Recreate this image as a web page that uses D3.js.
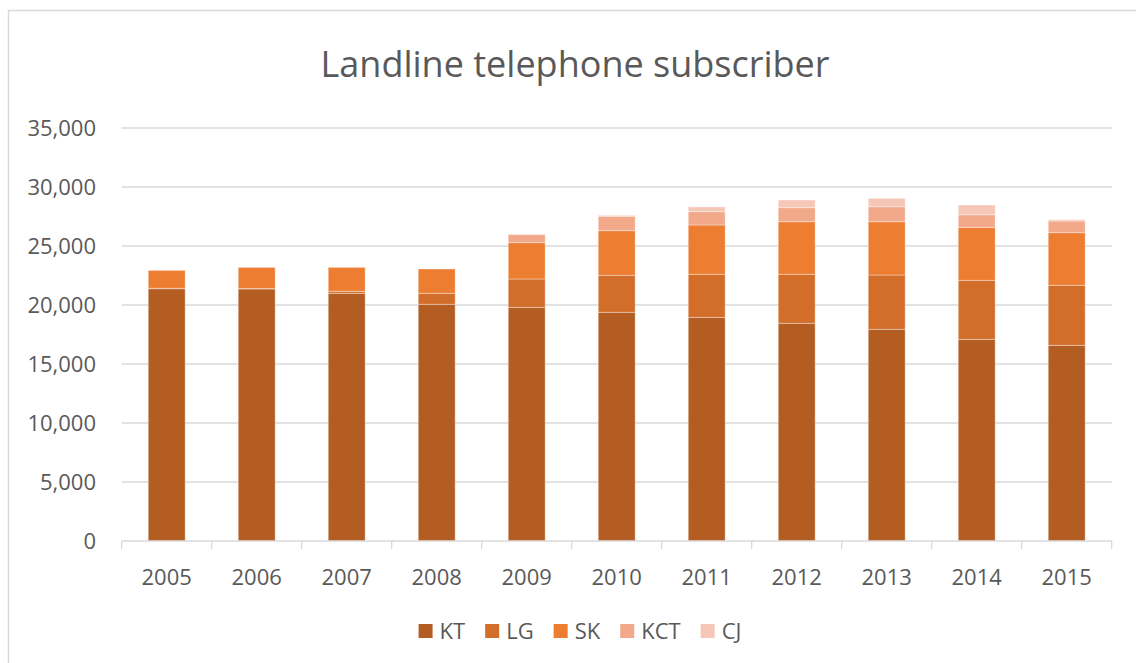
<!doctype html>
<html>
<head>
<meta charset="utf-8">
<title>Landline telephone subscriber</title>
<script src="https://cdnjs.cloudflare.com/ajax/libs/d3/7.8.5/d3.min.js"></script>
<style>
  body { margin: 0; background: #fff; }
  text { font-family: "Open Sans", "Noto Sans", sans-serif; fill: #595959; }
</style>
</head>
<body>
<div id="chart"></div>
<script>
// data
const years = ['2005','2006','2007','2008','2009','2010','2011','2012','2013','2014','2015'];
const seriesNames = ['KT','LG','SK','KCT','CJ'];
const KT  = [21380, 21360, 20990, 20060, 19800, 19380, 18950, 18450, 17940, 17090, 16580];
const LG  = [40, 40, 170, 930, 2405, 3135, 3650, 4150, 4600, 5000, 5090];
const SK  = [1520, 1790, 2035, 2060, 3080, 3785, 4180, 4460, 4520, 4490, 4460];
const KCT = [30, 30, 30, 0, 680, 1220, 1130, 1190, 1270, 1070, 990];
const CJ  = [0, 0, 0, 0, 50, 80, 400, 650, 710, 820, 110];
const yTicks = [0, 5000, 10000, 15000, 20000, 25000, 30000, 35000];
const colors = ['#b35d22', '#d26d2a', '#ed7d31', '#f1a98a', '#f6c7b7'];

const W = 1136, H = 663;
const plot = { left: 121.7, right: 1111.7, top: 128, bottom: 541 };

const svg = d3.select('#chart').append('svg')
  .attr('width', W).attr('height', H);

// chart area border
svg.append('rect')
  .attr('x', 8.5).attr('y', 10.5)
  .attr('width', W + 20).attr('height', H + 20)
  .attr('fill', 'none').attr('stroke', '#d9d9d9').attr('stroke-width', 1.5);

svg.append('text')
  .attr('x', 575).attr('y', 77)
  .attr('text-anchor', 'middle')
  .attr('font-size', '36px')
  .text('Landline telephone subscriber');

const table = years.map((yr, i) => ({
  year: yr, KT: KT[i], LG: LG[i], SK: SK[i], KCT: KCT[i], CJ: CJ[i]
}));
const stacked = d3.stack().keys(seriesNames)(table);

const x = d3.scaleBand()
  .domain(years)
  .range([plot.left, plot.right])
  .paddingInner(0.59)
  .paddingOuter(0.295);

const y = d3.scaleLinear()
  .domain([0, 35000])
  .range([plot.bottom, plot.top]);

// gridlines
svg.append('g')
  .selectAll('line')
  .data(yTicks.filter(d => d > 0))
  .join('line')
  .attr('x1', plot.left).attr('x2', plot.right)
  .attr('y1', d => y(d)).attr('y2', d => y(d))
  .attr('stroke', '#d9d9d9').attr('stroke-width', 1.3);

// y labels
svg.append('g')
  .selectAll('text')
  .data(yTicks)
  .join('text')
  .attr('x', 96)
  .attr('y', d => y(d))
  .attr('dy', '0.35em')
  .attr('text-anchor', 'end')
  .attr('font-size', '22px')
  .text(d => d3.format(',')(d));

// bars
svg.append('g')
  .selectAll('g')
  .data(stacked)
  .join('g')
  .attr('fill', (d, i) => colors[i])
  .selectAll('rect')
  .data(d => d)
  .join('rect')
  .attr('x', d => x(d.data.year))
  .attr('width', x.bandwidth())
  .attr('y', d => y(d[1]))
  .attr('height', d => y(d[0]) - y(d[1]))
  .attr('stroke', 'rgba(255,255,255,0.35)')
  .attr('stroke-width', 1);

// x axis
const xAxis = svg.append('g');
xAxis.append('line')
  .attr('x1', plot.left).attr('x2', plot.right)
  .attr('y1', plot.bottom).attr('y2', plot.bottom)
  .attr('stroke', '#d9d9d9').attr('stroke-width', 1.3);
const bounds = years.map(yr => x(yr) - x.step() * x.paddingInner() / 2).concat([plot.right]);
xAxis.selectAll('line.tick')
  .data(bounds)
  .join('line')
  .attr('class', 'tick')
  .attr('x1', d => d).attr('x2', d => d)
  .attr('y1', plot.bottom).attr('y2', plot.bottom + 8)
  .attr('stroke', '#d9d9d9').attr('stroke-width', 1.3);
xAxis.selectAll('text')
  .data(years)
  .join('text')
  .attr('x', d => x(d) + x.bandwidth() / 2)
  .attr('y', 577)
  .attr('dy', '0.35em')
  .attr('text-anchor', 'middle')
  .attr('font-size', '22px')
  .text(d => d);

// legend
const legend = svg.append('g');
const items = legend.selectAll('g')
  .data(seriesNames)
  .join('g');
items.append('rect')
  .attr('width', 14).attr('height', 14)
  .attr('y', -7)
  .attr('fill', (d, i) => colors[i]);
items.append('text')
  .attr('x', 21)
  .attr('dy', '0.35em')
  .attr('font-size', '22px')
  .text(d => d);
let pos = 0;
items.each(function() {
  const g = d3.select(this);
  g.attr('transform', `translate(${pos},0)`);
  pos += 21 + g.select('text').node().getComputedTextLength() + 20;
});
const legendW = pos - 20;
legend.attr('transform', `translate(${580 - legendW / 2},631)`);
</script>
</body>
</html>
